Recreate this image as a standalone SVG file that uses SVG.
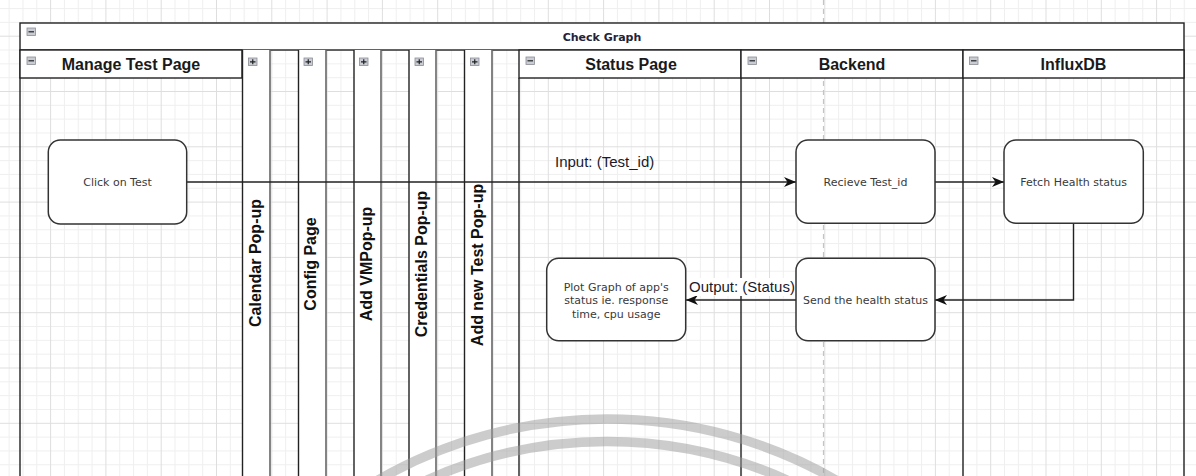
<svg xmlns="http://www.w3.org/2000/svg" width="1196" height="476" viewBox="0 0 1196 476">
<defs>
<style>
.lane{fill:none;stroke:#222;stroke-width:1.4}
.hdr{fill:#fff;stroke:#222;stroke-width:1.4}
.col{fill:#fff;stroke:none}
.edgeL{stroke:#222;stroke-width:1.4}
.edgeR{stroke:#666;stroke-width:1.6}
.htxt{font-family:"Liberation Sans",Arial,sans-serif;font-weight:bold;font-size:16px;fill:#1a1a1a;text-anchor:middle}
.vtxt{font-family:"Liberation Sans",Arial,sans-serif;font-weight:bold;font-size:16px;fill:#111;text-anchor:middle}
.ttl{font-family:"DejaVu Sans",Verdana,sans-serif;font-weight:bold;font-size:11px;fill:#22223a;text-anchor:middle}
.box{fill:#fff;stroke:#333;stroke-width:1.5}
.ntxt{font-family:"DejaVu Sans",Verdana,sans-serif;font-size:11px;fill:#3a3a3a;text-anchor:middle}
.conn{fill:none;stroke:#222;stroke-width:1.4}
.elbl{font-family:"Liberation Sans",Arial,sans-serif;font-size:15px;fill:#1a1a2a}
.ico{fill:#c9ccd3;stroke:#8a8d96;stroke-width:0.8}
.icl{stroke:#222;stroke-width:1.2}
.arc{fill:none;stroke:#9a9a9a;stroke-opacity:0.5;stroke-width:9.5}
</style>
<pattern id="grid" patternUnits="userSpaceOnUse" x="50.1" y="35.7" width="55.3" height="55.3">
<path d="M0 0.5H55.3M0 14.3H55.3M0 28.2H55.3M0 42H55.3M0.5 0V55.3M14.3 0V55.3M28.2 0V55.3M42 0V55.3" stroke="#efefef" stroke-width="1" fill="none"/>
<path d="M0 0.5H55.3M0.5 0V55.3" stroke="#dedede" stroke-width="1" fill="none"/>
</pattern>
<marker id="arr" markerUnits="userSpaceOnUse" markerWidth="12" markerHeight="10" refX="12" refY="5" orient="auto">
<path d="M0,0 L12,5 L0,10 L3.5,5 Z" fill="#111"/>
</marker>
</defs>
<rect width="1196" height="476" fill="#fff"/>
<rect width="1196" height="476" fill="url(#grid)"/>
<line x1="823.5" y1="0" x2="823.5" y2="476" stroke="#c4c4c4" stroke-width="1.2" stroke-dasharray="5,4"/>

<g id="pool">
<rect class="hdr" x="20" y="23" width="1164" height="27"/>
<line class="lane" x1="20" y1="50" x2="20" y2="480"/>
<line class="lane" x1="1184" y1="50" x2="1184" y2="480"/>
<rect class="ico" x="27" y="28" width="8.5" height="7.5"/>
<line class="icl" x1="28.5" y1="31.8" x2="34" y2="31.8"/>
<text class="ttl" x="602" y="40.5">Check Graph</text>
</g>

<g id="lane-manage">
<rect class="hdr" x="20" y="50" width="222" height="28"/>
<rect class="ico" x="27" y="57" width="8.5" height="7.5"/>
<line class="icl" x1="28.5" y1="60.8" x2="34" y2="60.8"/>
<text class="htxt" x="131" y="69.5">Manage Test Page</text>
</g>

<g id="lane-calendar">
<rect class="col" x="242" y="50" width="28" height="430"/>
<line class="edgeL" x1="242.5" y1="50" x2="242.5" y2="480"/>
<line class="edgeR" x1="270" y1="50" x2="270" y2="480"/>
<rect class="ico" x="248.5" y="58" width="8.5" height="7.5"/>
<path class="icl" d="M250 61.8H255.5M252.75 59.3V64.3"/>
<text class="vtxt" transform="translate(261,263) rotate(-90)">Calendar Pop-up</text>
</g>

<g id="lane-config">
<rect class="col" x="298" y="50" width="28" height="430"/>
<line class="edgeL" x1="298.5" y1="50" x2="298.5" y2="480"/>
<line class="edgeR" x1="326" y1="50" x2="326" y2="480"/>
<rect class="ico" x="304" y="58" width="8.5" height="7.5"/>
<path class="icl" d="M305.5 61.8H311M308.25 59.3V64.3"/>
<text class="vtxt" transform="translate(316,264) rotate(-90)">Config Page</text>
</g>

<g id="lane-addvm">
<rect class="col" x="354" y="50" width="27" height="430"/>
<line class="edgeL" x1="354" y1="50" x2="354" y2="480"/>
<line class="edgeR" x1="381" y1="50" x2="381" y2="480"/>
<rect class="ico" x="359.5" y="58" width="8.5" height="7.5"/>
<path class="icl" d="M361 61.8H366.5M363.75 59.3V64.3"/>
<text class="vtxt" transform="translate(372,264) rotate(-90)">Add VMPop-up</text>
</g>

<g id="lane-credentials">
<rect class="col" x="409" y="50" width="27" height="430"/>
<line class="edgeL" x1="409" y1="50" x2="409" y2="480"/>
<line class="edgeR" x1="436" y1="50" x2="436" y2="480"/>
<rect class="ico" x="415" y="58" width="8.5" height="7.5"/>
<path class="icl" d="M416.5 61.8H422M419.25 59.3V64.3"/>
<text class="vtxt" transform="translate(427,264) rotate(-90)">Credentials Pop-up</text>
</g>

<g id="lane-addtest">
<rect class="col" x="464" y="50" width="28" height="430"/>
<line class="edgeL" x1="464.5" y1="50" x2="464.5" y2="480"/>
<line class="edgeR" x1="492" y1="50" x2="492" y2="480"/>
<rect class="ico" x="470.5" y="58" width="8.5" height="7.5"/>
<path class="icl" d="M472 61.8H477.5M474.75 59.3V64.3"/>
<text class="vtxt" transform="translate(482.5,265) rotate(-90)">Add new Test Pop-up</text>
</g>

<g id="lane-status">
<rect class="hdr" x="519" y="50" width="222" height="28"/>
<line class="lane" x1="519" y1="78" x2="519" y2="480"/>
<rect class="ico" x="526" y="57" width="8.5" height="7.5"/>
<line class="icl" x1="527.5" y1="60.8" x2="533" y2="60.8"/>
<text class="htxt" x="631" y="69.5">Status Page</text>
</g>

<g id="lane-backend">
<rect class="hdr" x="741" y="50" width="222" height="28"/>
<line class="lane" x1="741" y1="78" x2="741" y2="480"/>
<rect class="ico" x="748" y="57" width="8.5" height="7.5"/>
<line class="icl" x1="749.5" y1="60.8" x2="755" y2="60.8"/>
<text class="htxt" x="852" y="69.5">Backend</text>
</g>

<g id="lane-influx">
<rect class="hdr" x="963" y="50" width="221" height="28"/>
<line class="lane" x1="963" y1="78" x2="963" y2="480"/>
<rect class="ico" x="969.5" y="57" width="8.5" height="7.5"/>
<line class="icl" x1="971" y1="60.8" x2="976.5" y2="60.8"/>
<text class="htxt" x="1073.5" y="69.5">InfluxDB</text>
</g>

<g id="arcs">
<path class="arc" d="M378 480 A 460 460 0 0 1 836 480"/>
<path class="arc" d="M427 480 A 440 440 0 0 1 787 480"/>
</g>

<g id="connectors">
<line class="conn" x1="186.7" y1="182" x2="796" y2="182" marker-end="url(#arr)"/>
<text class="elbl" x="555" y="166.5">Input: (Test_id)</text>
<line class="conn" x1="935" y1="182" x2="1004" y2="182" marker-end="url(#arr)"/>
<polyline class="conn" points="1073.5,223.3 1073.5,300 935,300" marker-end="url(#arr)"/>
<line class="conn" x1="796" y1="300" x2="686" y2="300" marker-end="url(#arr)"/>
<rect x="688" y="278" width="108" height="18" fill="#fff"/>
<text class="elbl" x="689" y="291.5">Output: (Status)</text>
</g>

<g id="node-click">
<rect class="box" x="48.3" y="140" width="138.4" height="84" rx="12"/>
<text class="ntxt" x="117.5" y="186">Click on Test</text>
</g>
<g id="node-receive">
<rect class="box" x="796" y="140" width="139" height="83.3" rx="12"/>
<text class="ntxt" x="865.5" y="186">Recieve Test_id</text>
</g>
<g id="node-fetch">
<rect class="box" x="1004" y="140" width="139.3" height="83.3" rx="12"/>
<text class="ntxt" x="1073.7" y="186">Fetch Health status</text>
</g>
<g id="node-send">
<rect class="box" x="796" y="258.3" width="139" height="82.4" rx="12"/>
<text class="ntxt" x="865.5" y="304">Send the health status</text>
</g>
<g id="node-plot">
<rect class="box" x="546.7" y="258.3" width="139" height="82.4" rx="12"/>
<text class="ntxt" x="616.2" y="290.5">Plot Graph of app's</text>
<text class="ntxt" x="616.2" y="304.3">status ie. response</text>
<text class="ntxt" x="616.2" y="318">time, cpu usage</text>
</g>
</svg>
